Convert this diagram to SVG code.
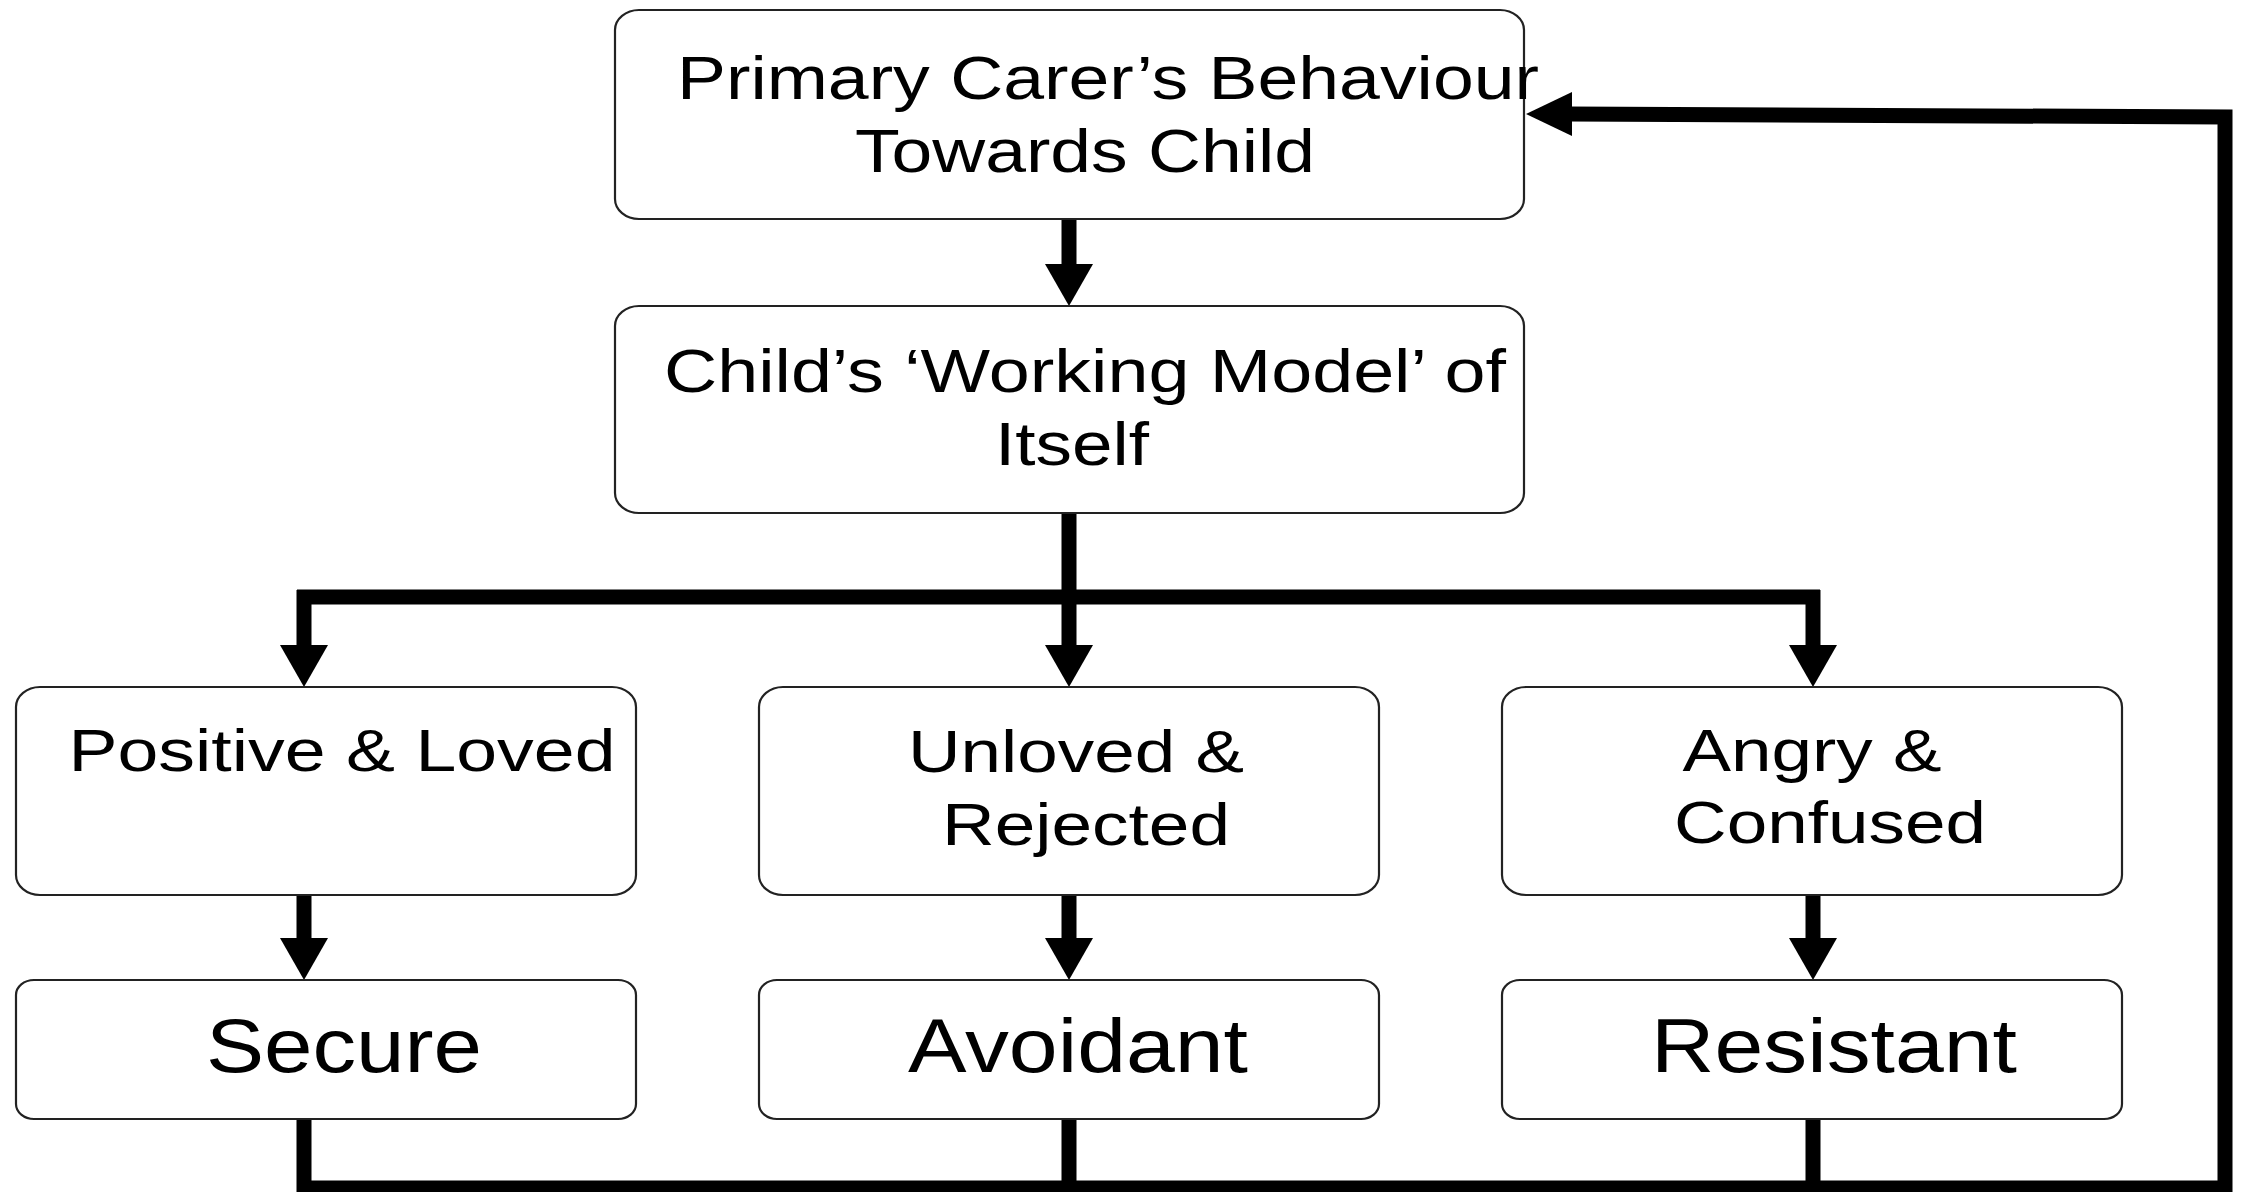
<svg xmlns="http://www.w3.org/2000/svg" width="2241" height="1192" viewBox="0 0 2241 1192">
<defs>
<style>
.box{fill:#fff;stroke:#222;stroke-width:2.2}
.t{font-family:"Liberation Sans",Arial,sans-serif;fill:#000;text-anchor:middle}
.m{font-size:62px}
.s{font-size:60px}
.b{font-size:76px}
.c{fill:none;stroke:#000;stroke-width:15}
.h{fill:#000}
</style>
</defs>
<rect width="2241" height="1192" fill="#fff"/>
<g id="connectors">
<path class="c" d="M1069 219V266"/>
<path class="c" d="M1069 513V645"/>
<path class="c" d="M297 597H1820"/>
<path class="c" d="M304 590V645"/>
<path class="c" d="M1813 590V645"/>
<path class="c" d="M304 895V940"/>
<path class="c" d="M1069 895V940"/>
<path class="c" d="M1813 895V940"/>
<path class="c" d="M304 1119V1188H2225V117L1568 114"/>
<path class="c" d="M1069 1119V1188"/>
<path class="c" d="M1813 1119V1188"/>
<path class="h" d="M1045 264H1093L1069 306Z"/>
<path class="h" d="M280 645H328L304 687Z"/>
<path class="h" d="M1045 645H1093L1069 687Z"/>
<path class="h" d="M1789 645H1837L1813 687Z"/>
<path class="h" d="M280 938H328L304 980Z"/>
<path class="h" d="M1045 938H1093L1069 980Z"/>
<path class="h" d="M1789 938H1837L1813 980Z"/>
<path class="h" d="M1572 92V136L1526 114Z"/>
</g>
<g id="carer">
<rect class="box" x="615" y="10" width="909" height="209" rx="24" ry="20"/>
<text class="t m" x="1108" y="99" textLength="862" lengthAdjust="spacingAndGlyphs">Primary Carer’s Behaviour</text>
<text class="t m" x="1085" y="172" textLength="460" lengthAdjust="spacingAndGlyphs">Towards Child</text>
</g>
<g id="model">
<rect class="box" x="615" y="306" width="909" height="207" rx="24" ry="20"/>
<text class="t m" x="1085" y="392" textLength="842" lengthAdjust="spacingAndGlyphs">Child’s ‘Working Model’ of</text>
<text class="t m" x="1072" y="465" textLength="154" lengthAdjust="spacingAndGlyphs">Itself</text>
</g>
<g id="positive">
<rect class="box" x="16" y="687" width="620" height="208" rx="24" ry="20"/>
<text class="t s" x="342" y="771" textLength="547" lengthAdjust="spacingAndGlyphs">Positive &amp; Loved</text>
</g>
<g id="unloved">
<rect class="box" x="759" y="687" width="620" height="208" rx="24" ry="20"/>
<text class="t s" x="1076" y="772" textLength="336" lengthAdjust="spacingAndGlyphs">Unloved &amp;</text>
<text class="t s" x="1086" y="845" textLength="288" lengthAdjust="spacingAndGlyphs">Rejected</text>
</g>
<g id="angry">
<rect class="box" x="1502" y="687" width="620" height="208" rx="24" ry="20"/>
<text class="t s" x="1812" y="771" textLength="259" lengthAdjust="spacingAndGlyphs">Angry &amp;</text>
<text class="t s" x="1830" y="843" textLength="312" lengthAdjust="spacingAndGlyphs">Confused</text>
</g>
<g id="secure">
<rect class="box" x="16" y="980" width="620" height="139" rx="18" ry="15"/>
<text class="t b" x="344" y="1072" textLength="276" lengthAdjust="spacingAndGlyphs">Secure</text>
</g>
<g id="avoidant">
<rect class="box" x="759" y="980" width="620" height="139" rx="18" ry="15"/>
<text class="t b" x="1078" y="1072" textLength="340" lengthAdjust="spacingAndGlyphs">Avoidant</text>
</g>
<g id="resistant">
<rect class="box" x="1502" y="980" width="620" height="139" rx="18" ry="15"/>
<text class="t b" x="1834" y="1072" textLength="366" lengthAdjust="spacingAndGlyphs">Resistant</text>
</g>
</svg>
